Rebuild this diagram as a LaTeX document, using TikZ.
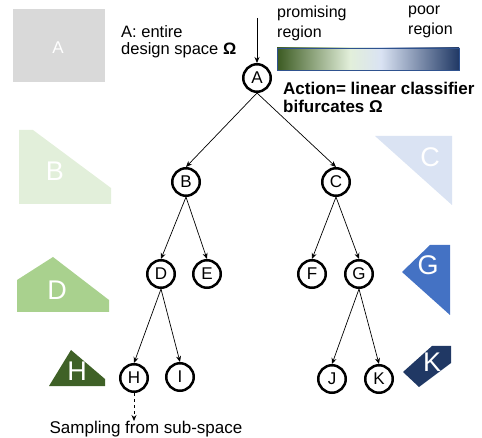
\documentclass[tikz,border=0pt]{standalone}
\usepackage{fontspec}
\setmainfont{Liberation Sans}
\usetikzlibrary{positioning,arrows.meta}

\definecolor{greyA}{HTML}{D9D9D9}
\definecolor{greenB}{HTML}{E2EFDA}
\definecolor{blueC}{HTML}{DAE3F3}
\definecolor{greenD}{HTML}{A9D18E}
\definecolor{blueG}{HTML}{4472C4}
\definecolor{greenH}{HTML}{3F6127}
\definecolor{navyK}{HTML}{203864}
\definecolor{barleft}{HTML}{3B5A21}
\definecolor{barline}{HTML}{2F528F}

\pgfdeclarehorizontalshading{regionbar}{100bp}{color(0bp)=(barleft); color(25bp)=(barleft);
  color(45bp)=(greenB); color(53.5bp)=(blueC); color(75bp)=(navyK); color(100bp)=(navyK)}

\tikzset{
  tnode/.style={draw, circle, line width=2.5pt, minimum size=27.5pt, inner sep=0pt, font=\fontsize{17}{17}\selectfont},
  regionlbl/.style={text=white, font=\fontsize{27}{27}\selectfont}
}

\begin{document}
\begin{tikzpicture}[x=1pt, y=-1pt, >={Stealth[length=6pt,width=5pt]}]
    \useasboundingbox (0,0) rectangle (482,438);

    % Sub-space shapes
    \fill[greyA] (13,9) rectangle (105,82);
    \node[text=white, font=\fontsize{17}{17}\selectfont] (lblA) at (58,48) {A};
    \fill[greenB] (19,130) -- (33,130) -- (111,188) -- (111,204) -- (19,204) -- cycle;
    \node[regionlbl] (lblB) at (55,171) {B};
    \fill[blueC] (375,136) -- (452,136) -- (452,205) -- cycle;
    \node[regionlbl] (lblC) at (430,157) {C};
    \fill[greenD] (17,280) -- (53,257) -- (109,300) -- (109,312) -- (17,312) -- cycle;
    \node[regionlbl] (lblD) at (57,290) {D};
    \fill[blueG] (430,245) -- (450,245) -- (450,315) -- (402,272) -- cycle;
    \node[regionlbl] (lblG) at (428,265) {G};
    \fill[greenH] (49,386) -- (71,350) -- (105,379) -- (105,386) -- cycle;
    \node[regionlbl] (lblH) at (77,371) {H};
    \fill[navyK] (403,372) -- (432,346) -- (451,346) -- (451,363) -- (419,387) -- cycle;
    \node[regionlbl] (lblK) at (432,362) {K};

    % Colour bar
    \shade[shading=regionbar, draw=barline, line width=0.6pt] (277,48) rectangle (459,70);
    \node[anchor=north west, align=left, inner sep=0pt, font=\fontsize{16}{20}\selectfont] (prom) at (277,6) {promising\\region};
    \node[anchor=north west, align=left, inner sep=0pt, font=\fontsize{16}{20}\selectfont] (poor) at (408,6) {poor\\region};

    % Tree nodes
    \node[tnode] (A) at (257,78) {A};
    \node[tnode] (B) at (186,182) {B};
    \node[tnode] (C) at (336,182) {C};
    \node[tnode] (D) at (161,274) {D};
    \node[tnode] (E) at (207,274) {E};
    \node[tnode] (F) at (312,274) {F};
    \node[tnode] (G) at (359,274) {G};
    \node[tnode] (H) at (134,378) {H};
    \node[tnode] (I) at (180,377) {I};
    \node[tnode] (J) at (332,379) {J};
    \node[tnode] (K) at (379,379) {K};

    % Texts
    \coordinate (inA) at (257,18);
    \node[anchor=north west, align=left, inner sep=0pt, font=\fontsize{16.5}{17}\selectfont] (space) at (121,25) {A: entire\\design space \textbf{Ω}};
    \node[anchor=north west, align=left, inner sep=0pt, font=\bfseries\fontsize{17}{18}\selectfont] (action) at (283,82) {Action= linear classifier\\bifurcates Ω};
    \node[anchor=north, inner sep=0pt, font=\fontsize{17}{17}\selectfont] (samp) at (146,421) {Sampling from sub-space};

    % Edges
    \draw[->, line width=0.7pt] (inA) -- (A.north);
    \draw[->, line width=0.7pt] (A.south) -- (B.north);
    \draw[->, line width=0.7pt] (A.south) -- (C.north);
    \draw[->, line width=0.7pt] (B.south) -- (D.north);
    \draw[->, line width=0.7pt] (B.south) -- (E.north);
    \draw[->, line width=0.7pt] (C.south) -- (F.north);
    \draw[->, line width=0.7pt] (C.south) -- (G.north);
    \draw[->, line width=0.7pt] (D.south) -- (H.north);
    \draw[->, line width=0.7pt] (D.south) -- (I.north);
    \draw[->, line width=0.7pt] (G.south) -- (J.north);
    \draw[->, line width=0.7pt] (G.south) -- (K.north);
    \draw[->, dashed, line width=0.7pt] (H.south) -- (H |- samp.north);
\end{tikzpicture}
\end{document}
